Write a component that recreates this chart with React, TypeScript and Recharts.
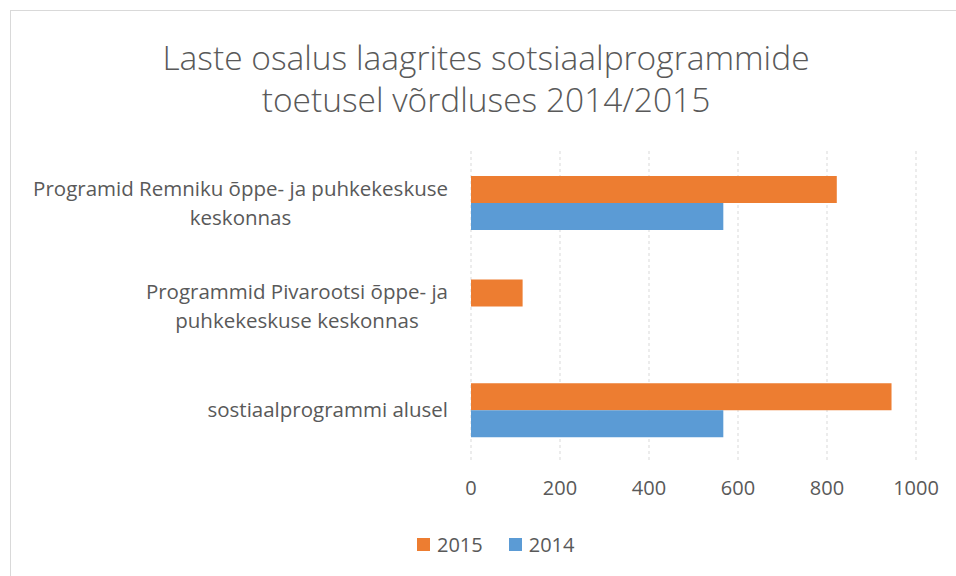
import { BarChart, Bar, XAxis, YAxis, CartesianGrid } from "recharts"

const categories = [
  "Programid Remniku õppe- ja puhkekeskuse\nkeskonnas",
  "Programmid Pivarootsi õppe- ja\npuhkekeskuse keskonnas",
  "sostiaalprogrammi alusel",
]
const values2015 = [822, 116, 945]
const values2014 = [567, 0, 567]
const xTicks = [0, 200, 400, 600, 800, 1000]

const ORANGE = "#ED7D31"
const BLUE = "#5B9BD5"
const TEXT = "#595959"
const FONT = "'Open Sans', sans-serif"
const LABEL_SIZE = 20.5

const data = categories.map((name, i) => ({
  name,
  y2015: values2015[i],
  y2014: values2014[i],
}))

let ctx: CanvasRenderingContext2D | null = null
function measure(s: string) {
  if (!ctx) ctx = document.createElement("canvas").getContext("2d")
  if (!ctx) return s.length * 10
  ctx.font = `${LABEL_SIZE}px 'Open Sans'`
  return ctx.measureText(s).width
}

// multi-line category label, lines centred on each other, block right-aligned
const CategoryTick = ({ x, y, payload }: any) => {
  const lines: string[] = String(payload.value).split("\n")
  const w = Math.max(...lines.map(measure))
  const cx = x - 15 - w / 2
  const lh = 29
  const startY = y - ((lines.length - 1) * lh) / 2
  return (
    <text textAnchor="middle" fill={TEXT} fontSize={LABEL_SIZE} fontFamily={FONT}>
      {lines.map((l, i) => (
        <tspan key={i} x={cx} y={startY + i * lh} dy="0.35em">
          {l}
        </tspan>
      ))}
    </text>
  )
}

export default function App() {
  return (
    <div style={{ position: "absolute", left: 0, top: 0, width: 956, height: 576, overflow: "hidden", background: "#fff", fontFamily: FONT }}>
      <div style={{ position: "absolute", left: 10, top: 10, width: 960, height: 580, border: "1px solid #d9d9d9" }} />
      <div style={{ position: "absolute", left: 0, top: 36, width: 972, textAlign: "center", color: TEXT, fontSize: 33.5, fontWeight: 300, lineHeight: "42px" }}>
        Laste osalus laagrites sotsiaalprogrammide
        <br />
        toetusel võrdluses 2014/2015
      </div>
      <div style={{ position: "absolute", left: 0, top: 0 }}>
        <BarChart
          width={956}
          height={576}
          data={data}
          layout="vertical"
          margin={{ top: 151, right: 40, bottom: 84, left: 0 }}
          barCategoryGap="24%"
          barGap={0}
        >
          <CartesianGrid horizontal={false} strokeDasharray="3 3" stroke="#d9d9d9" />
          <XAxis
            type="number"
            domain={[0, 1000]}
            ticks={xTicks}
            axisLine={false}
            tickLine={false}
            tickMargin={13}
            tick={{ fill: TEXT, fontSize: 20, fontFamily: FONT }}
          />
          <YAxis
            type="category"
            dataKey="name"
            width={471}
            axisLine={false}
            tickLine={false}
            tick={<CategoryTick />}
          />
          <Bar dataKey="y2015" fill={ORANGE} isAnimationActive={false} />
          <Bar dataKey="y2014" fill={BLUE} isAnimationActive={false} />
        </BarChart>
      </div>
      <div style={{ position: "absolute", left: 417, top: 531, display: "flex", alignItems: "center", color: TEXT, fontSize: 20 }}>
        <span style={{ width: 13, height: 13, background: ORANGE, display: "inline-block", marginRight: 7 }} />
        <span style={{ marginRight: 26 }}>2015</span>
        <span style={{ width: 13, height: 13, background: BLUE, display: "inline-block", marginRight: 7 }} />
        <span>2014</span>
      </div>
    </div>
  )
}
